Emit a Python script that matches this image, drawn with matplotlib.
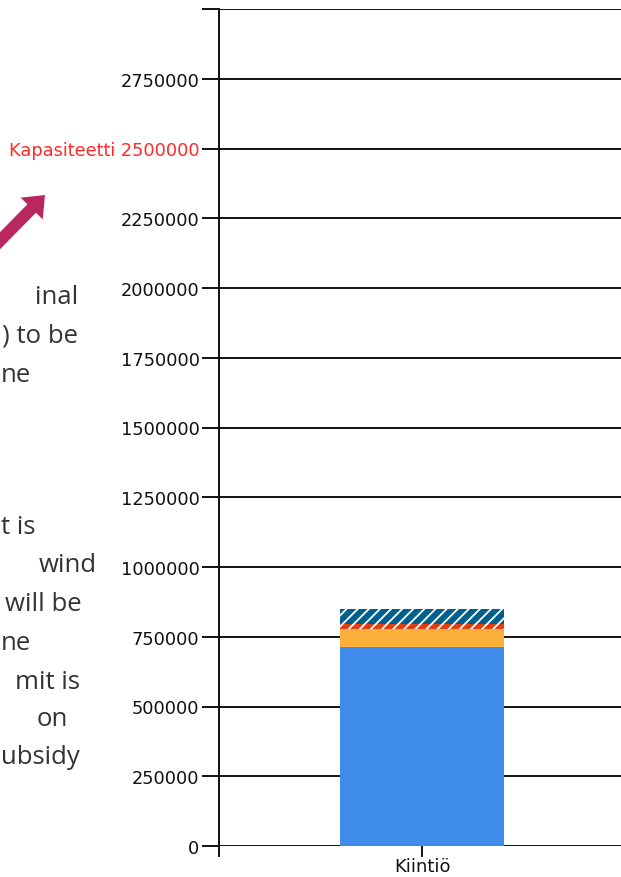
import matplotlib
matplotlib.use('Agg')
import matplotlib.pyplot as plt
from matplotlib.patches import FancyArrow

# chart data
categories = ['Kiintiö']
segment_values = [715000, 62000, 18000, 55000]   # blue, orange, red (hatched), dark blue (hatched)
segment_colors = ['#3f8beb', '#fbb03b', '#e0400f', '#005f8c']
segment_hatches = [None, None, '///', '///']
capacity = 2500000
capacity_label = 'Kapasiteetti'
y_ticks = list(range(0, 3000001, 250000))

# cut-off slide text on the left (visible fragments)
side_text = ['inal', ') to be', 'ne', 't is', 'wind', 'will be', 'ne', 'mit is', 'on', 'ubsidy']
side_text_y = [297, 336, 376, 527, 566, 605, 644, 683, 720, 758]
side_text_right = [78, 78, 28, 30, 97, 82, 28, 80, 68, 71]

W, H = 621, 878
fig = plt.figure(figsize=(W / 100, H / 100), dpi=100)
plt.rcParams['hatch.linewidth'] = 1.3

ax = fig.add_axes([219 / W, (H - 847) / H, (625 - 219) / W, (847 - 10) / H])
ax.set_axisbelow(True)

bottom = 0
for val, col, hat in zip(segment_values, segment_colors, segment_hatches):
    if hat:
        ax.bar(0, val, width=0.404, bottom=bottom, color=col, edgecolor='white',
               linewidth=0, hatch=hat, zorder=3)
    else:
        ax.bar(0, val, width=0.404, bottom=bottom, color=col, linewidth=0, zorder=3)
    bottom += val

ax.set_xlim(-0.5, 0.5)
ax.set_ylim(0, y_ticks[-1])
ax.set_yticks(y_ticks)
labels = []
for t in y_ticks:
    if t == y_ticks[-1]:
        labels.append('')
    elif t == capacity:
        labels.append(f'{capacity_label} {t}')
    else:
        labels.append(str(t))
ax.set_yticklabels(labels, fontsize=12.8, family='DejaVu Sans', color='#111111')
for lab, t in zip(ax.get_yticklabels(), y_ticks):
    if t == capacity:
        lab.set_color('#ff2a2a')
ax.set_xticks([0])
ax.set_xticklabels(categories, fontsize=13, family='DejaVu Sans', color='#111111')

ax.tick_params(axis='y', length=12, width=1.4, color='#111111', pad=2)
ax.tick_params(axis='x', length=8, width=1.4, color='#111111', pad=0)
ax.yaxis.grid(True, color='#111111', linewidth=1.4)

for s in ['top', 'right', 'bottom']:
    ax.spines[s].set_visible(False)
ax.spines['left'].set_color('#111111')
ax.spines['left'].set_linewidth(1.4)
ax.spines['left'].set_bounds(-35000, y_ticks[-1])

# slide text fragments, kept inside the left edge
renderer = fig.canvas.get_renderer()
for txt, y, xr in zip(side_text, side_text_y, side_text_right):
    t = fig.text(xr / W, (H - y) / H, txt, ha='right', va='center', fontsize=18.5,
                 family=['Open Sans', 'DejaVu Sans'], color='#333333')
    if t.get_window_extent(renderer).x0 < 1:
        t.set_ha('left')
        t.set_x(1 / W)

# slide arrow (in inches from the figure's bottom-left)
x0, y0 = -20, 262
x1, y1 = 45, 196
arrow = FancyArrow(x0 / 100, (H - y0) / 100, (x1 - x0) / 100, (y0 - y1) / 100,
                   width=0.12, head_width=0.31, head_length=0.19,
                   length_includes_head=True, color='#b8275f', linewidth=0,
                   transform=fig.dpi_scale_trans)
fig.add_artist(arrow)

fig.savefig('out.png', dpi=100)
